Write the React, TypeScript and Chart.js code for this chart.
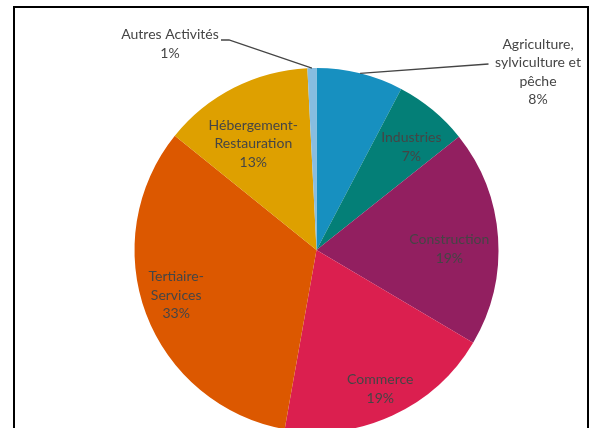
import { useEffect, useRef } from "react";
import { Chart, registerables } from "chart.js";

Chart.register(...registerables);

// ---- data ----
const categories = [
  "Agriculture, sylviculture et pêche",
  "Industries",
  "Construction",
  "Commerce",
  "Tertiaire-Services",
  "Hébergement-Restauration",
  "Autres Activités",
];
const labelLines: string[][] = [
  ["Agriculture,", "sylviculture et", "pêche"],
  ["Industries"],
  ["Construction"],
  ["Commerce"],
  ["Tertiaire-", "Services"],
  ["Hébergement-", "Restauration"],
  ["Autres Activités"],
];
const shares = [7.7, 6.6, 19.2, 19.3, 33.0, 13.4, 0.8];
const percentLabels = ["8%", "7%", "19%", "19%", "33%", "13%", "1%"];
const colors = ["#1790C0", "#047F77", "#921F60", "#DB1F4F", "#DC5800", "#DEA000", "#88BDE0"];

// ---- label layout (styling, not data) ----
// inside labels: [radius factor, angle shift in degrees]
const insideLayout: Record<number, [number, number]> = {
  1: [0.77, 3],
  2: [0.73, 3.6],
  3: [0.84, 0],
  4: [0.81, 2.7],
  5: [0.68, -3.7],
};
// outside labels: block centre relative to pie centre, and leader path points relative to pie centre
const outsideLayout: Record<number, { cx: number; cy: number; path: [number, number][] }> = {
  0: { cx: 221.5, cy: -178, path: [[172, -186]] },
  6: { cx: -146.5, cy: -206, path: [[-87.5, -210], [-95.5, -210]] },
};

const FONT = "14px Lato, 'Open Sans', sans-serif";
const TEXT = "#454545";
const LINE_H = 18.5;

const labelPlugin = {
  id: "pieLabels",
  afterDatasetsDraw(chart: any) {
    const ctx = chart.ctx as CanvasRenderingContext2D;
    const meta = chart.getDatasetMeta(0);
    ctx.save();
    ctx.font = FONT;
    ctx.fillStyle = TEXT;
    ctx.textAlign = "center";
    ctx.textBaseline = "middle";
    meta.data.forEach((arc: any, i: number) => {
      const { x, y, startAngle, endAngle, outerRadius } = arc.getProps(
        ["x", "y", "startAngle", "endAngle", "outerRadius"],
        true
      );
      const mid = (startAngle + endAngle) / 2;
      const lines = [...labelLines[i], percentLabels[i]];
      let cx: number, cy: number;
      if (outsideLayout[i]) {
        const o = outsideLayout[i];
        cx = x + o.cx;
        cy = y + o.cy;
        ctx.beginPath();
        ctx.strokeStyle = TEXT;
        ctx.lineWidth = 1.3;
        ctx.moveTo(x + Math.cos(mid) * outerRadius, y + Math.sin(mid) * outerRadius);
        o.path.forEach(([px, py]) => ctx.lineTo(x + px, y + py));
        ctx.stroke();
      } else {
        const [f, shift] = insideLayout[i];
        const a = mid + (shift * Math.PI) / 180;
        cx = x + Math.cos(a) * outerRadius * f;
        cy = y + Math.sin(a) * outerRadius * f;
      }
      const top = cy - ((lines.length - 1) * LINE_H) / 2;
      lines.forEach((t, k) => ctx.fillText(t, cx, top + k * LINE_H));
    });
    ctx.restore();
  },
};

const framePlugin = {
  id: "frame",
  beforeDraw(chart: any) {
    const ctx = chart.ctx as CanvasRenderingContext2D;
    ctx.save();
    ctx.fillStyle = "#ffffff";
    ctx.fillRect(0, 0, chart.width, chart.height);
    ctx.strokeStyle = "#000000";
    ctx.lineWidth = 2;
    ctx.strokeRect(14, 7, 574, 500);
    ctx.restore();
  },
};

export default function App() {
  const ref = useRef<HTMLCanvasElement>(null);
  useEffect(() => {
    document.body.style.margin = "0";
    const chart = new Chart(ref.current!, {
      type: "pie",
      data: {
        labels: categories,
        datasets: [
          {
            data: shares,
            backgroundColor: colors,
            borderWidth: 0,
          },
        ],
      },
      options: {
        responsive: false,
        animation: false,
        events: [],
        layout: { padding: { left: 134.5, right: 99.5, top: 68, bottom: 8 } },
        plugins: {
          legend: { display: false },
          tooltip: { enabled: false },
        },
      },
      plugins: [framePlugin, labelPlugin],
    });
    return () => chart.destroy();
  }, []);
  return (
    <div style={{ position: "fixed", left: 0, top: 0, width: 598, height: 428, overflow: "hidden", background: "#fff" }}>
      <canvas ref={ref} width={598} height={440} style={{ display: "block" }} />
    </div>
  );
}
